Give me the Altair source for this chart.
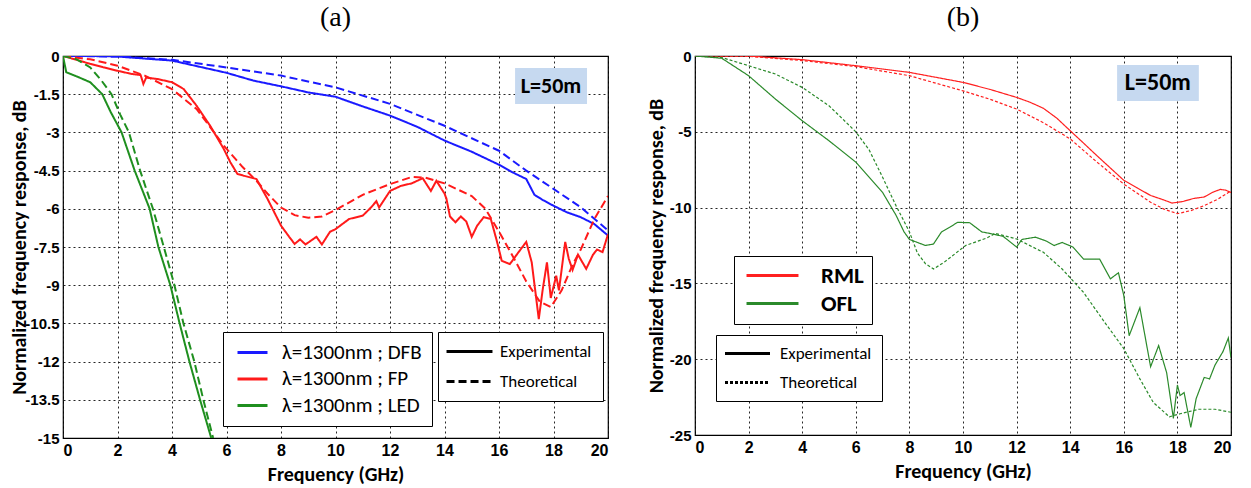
import altair as alt
import pandas as pd

# ---------------- Panel (a) data ----------------
dfb_exp_f = [0, 1, 2, 3, 4, 5, 6, 7, 8, 9, 10, 11, 12, 13, 14, 15, 16, 16.5, 17, 17.3, 17.6, 18, 18.5, 19, 19.5, 20]
dfb_exp_db = [0, 0, -0.02, -0.1, -0.18, -0.42, -0.66, -0.97, -1.19, -1.43, -1.6, -1.98, -2.34, -2.78, -3.32, -3.76,
              -4.27, -4.57, -4.83, -5.45, -5.65, -5.88, -6.14, -6.33, -6.6, -7.05]
dfb_th_f = [0, 2, 4, 6, 8, 10, 12, 14, 16, 17, 18, 19, 20]
dfb_th_db = [0, -0.02, -0.15, -0.45, -0.77, -1.23, -1.88, -2.74, -3.72, -4.5, -5.22, -5.94, -6.85]

fp_exp_f = [0, 0.5, 1.0, 1.5, 2.0, 2.5, 2.85, 2.95, 3.05, 3.45, 4.0, 4.43, 4.9, 5.4, 5.9, 6.14, 6.4, 6.63, 7.1, 7.5,
            8.0, 8.3, 8.5, 8.7, 8.9, 9.1, 9.3, 9.5, 9.8, 10.0, 10.5, 11.0, 11.3, 11.5, 11.6, 12.0, 12.4, 12.8, 13.2,
            13.5, 13.7, 14.0, 14.07, 14.2, 14.4, 14.6, 14.8, 15.0, 15.2, 15.44, 15.7, 15.93, 16.1, 16.4, 16.72, 17.0,
            17.2, 17.46, 17.6, 17.76, 17.9, 18.1, 18.2, 18.43, 18.56, 18.7, 18.9, 19.2, 19.45, 19.6, 19.8, 20.0]
fp_exp_db = [0, -0.15, -0.31, -0.45, -0.58, -0.7, -0.75, -1.1, -0.85, -0.9, -1.03, -1.3, -1.95, -2.74, -3.65, -4.17,
             -4.63, -4.7, -4.83, -5.6, -6.66, -7.1, -7.38, -7.2, -7.4, -7.25, -7.1, -7.4, -6.9, -6.8, -6.4, -6.27,
             -5.95, -5.7, -5.95, -5.3, -5.1, -5.0, -4.8, -5.3, -4.9, -5.4, -5.6, -6.3, -6.53, -6.3, -6.5, -7.1, -6.66,
             -6.33, -6.4, -7.3, -8.04, -8.17, -7.7, -7.3, -8.1, -10.33, -9.2, -8.1, -9.5, -8.63, -9.2, -7.3, -7.96,
             -8.4, -7.8, -8.36, -7.8, -7.6, -7.7, -7.0]
fp_th_f = [0, 1, 2, 3, 4, 4.9, 5.4, 5.9, 6.6, 7.1, 7.5, 8.0, 8.5, 9.0, 9.5, 10.0, 11.0, 12.0, 12.8, 13.3, 14.0, 15.0,
           15.5, 16.0, 16.5, 17.0, 17.5, 17.9, 18.3, 18.7, 19.0, 19.5, 20.0]
fp_th_db = [0, -0.13, -0.38, -0.77, -1.3, -2.08, -2.79, -3.52, -4.37, -4.9, -5.4, -5.95, -6.25, -6.35, -6.3, -6.05,
            -5.45, -5.03, -4.75, -4.78, -5.0, -5.5, -6.0, -6.9, -7.85, -8.85, -9.65, -9.86, -9.2, -8.2, -7.6, -6.4, -5.5]

led_exp_f = [0, 0.12, 0.5, 1.0, 1.44, 1.75, 2.15, 2.63, 3.18, 3.5, 3.94, 4.28, 4.64, 5.03, 5.44]
led_exp_db = [0, -0.64, -0.8, -1.03, -1.5, -2.2, -3.0, -4.5, -6.0, -7.5, -9.0, -10.5, -12.0, -13.5, -15.0]
led_th_f = [0, 0.5, 1.0, 1.4, 1.78, 2.1, 2.42, 2.83, 3.3, 3.7, 4.09, 4.42, 4.82, 5.15, 5.51]
led_th_db = [0, -0.13, -0.45, -0.95, -1.5, -2.3, -3.0, -4.5, -6.0, -7.5, -9.0, -10.5, -12.0, -13.5, -15.0]

# ---------------- Panel (b) data ----------------
rml_exp_f = [0, 2, 4, 6, 8, 10, 11, 12, 12.5, 13, 13.5, 14, 14.5, 15, 16, 16.5, 17, 17.5, 17.8, 18.2, 18.6, 19,
             19.3, 19.6, 19.8, 20]
rml_exp_db = [0, 0, -0.24, -0.64, -1.08, -1.74, -2.2, -2.73, -3.05, -3.45, -4.1, -4.93, -5.75, -6.58, -8.2, -8.7,
              -9.2, -9.5, -9.7, -9.6, -9.4, -9.3, -9.0, -8.8, -8.85, -9.0]
rml_th_f = [0, 2, 4, 6, 8, 10, 11, 12, 13, 14, 15, 16, 17, 17.5, 18, 18.5, 19, 19.5, 20]
rml_th_db = [0, -0.02, -0.3, -0.7, -1.3, -2.3, -2.85, -3.5, -4.4, -5.47, -7.0, -8.45, -9.65, -10.1, -10.4, -10.2,
             -9.87, -9.45, -8.9]

ofl_exp_f = [0, 1, 2, 3, 4, 5, 6, 7, 7.5, 7.8, 8.0, 8.3, 8.6, 8.9, 9.2, 9.5, 9.8, 10.25, 10.7, 11.1, 11.5, 12.0,
             12.2, 12.7, 13.1, 13.4, 13.7, 14.1, 14.5, 15.1, 15.5, 15.8, 16.0, 16.2, 16.6, 17.0, 17.3, 17.6, 17.85,
             18.0, 18.1, 18.25, 18.5, 18.7, 19.0, 19.2, 19.4, 19.7, 19.9, 20.0]
ofl_exp_db = [0, -0.15, -1.3, -2.84, -4.27, -5.59, -7.0, -9.0, -10.5, -11.6, -12.1, -12.3, -12.5, -12.4, -11.6,
              -11.3, -10.97, -11.0, -11.6, -11.74, -11.9, -12.6, -12.1, -11.95, -12.2, -12.5, -12.3, -12.6, -13.4,
              -13.4, -14.7, -14.3, -15.8, -18.45, -16.6, -20.5, -19.1, -20.9, -23.9, -21.7, -22.4, -22.2, -24.5,
              -22.6, -21.2, -21.3, -20.4, -19.5, -18.6, -19.9]
ofl_th_f = [0, 1, 2, 3, 4, 5, 6, 6.5, 7, 7.5, 8.0, 8.3, 8.6, 8.9, 9.3, 10.1, 10.9, 11.2, 12.0, 13.0, 13.7, 14.5,
            15.3, 16.0, 16.6, 17.1, 17.7, 18.1, 18.8, 19.4, 20.0]
ofl_th_db = [0, -0.1, -0.64, -1.19, -2.07, -3.28, -5.0, -6.2, -8.0, -9.87, -11.6, -13.0, -13.7, -14.05, -13.6,
             -12.5, -12.0, -11.7, -12.07, -12.95, -14.05, -15.6, -17.6, -19.3, -21.3, -22.85, -23.8, -23.6, -23.3,
             -23.3, -23.5]

# categories / labels
sources_a = ["λ=1300nm ; DFB", "λ=1300nm ; FP", "λ=1300nm ; LED"]
colors_a = ["#1a1aff", "#ff1a1a", "#1f8f1f"]
sources_b = ["RML", "OFL"]
colors_b = ["#ff2020", "#2b8a2b"]
types = ["Experimental", "Theoretical"]
x_ticks = [0, 2, 4, 6, 8, 10, 12, 14, 16, 18, 20]
y_ticks_a = [0, -1.5, -3, -4.5, -6, -7.5, -9, -10.5, -12, -13.5, -15]
y_ticks_b = [0, -5, -10, -15, -20, -25]

# annotation boxes ("L=50m"), in data units
note_text = ["L=50m"]
box_a = {"f1": [16.59], "f2": [19.23], "d1": [-0.47], "d2": [-1.88], "fc": [17.91], "dc": [-1.18]}
box_b = {"f1": [15.75], "f2": [18.8], "d1": [-0.59], "d2": [-2.97], "fc": [17.27], "dc": [-1.78]}


def frame(src, typ, f, db):
    return pd.DataFrame({"source": src, "type": typ, "f": f, "dB": db})


df_a = pd.concat([
    frame(sources_a[0], types[0], dfb_exp_f, dfb_exp_db),
    frame(sources_a[0], types[1], dfb_th_f, dfb_th_db),
    frame(sources_a[1], types[0], fp_exp_f, fp_exp_db),
    frame(sources_a[1], types[1], fp_th_f, fp_th_db),
    frame(sources_a[2], types[0], led_exp_f, led_exp_db),
    frame(sources_a[2], types[1], led_th_f, led_th_db),
], ignore_index=True)

df_b = pd.concat([
    frame(sources_b[0], types[0], rml_exp_f, rml_exp_db),
    frame(sources_b[0], types[1], rml_th_f, rml_th_db),
    frame(sources_b[1], types[0], ofl_exp_f, ofl_exp_db),
    frame(sources_b[1], types[1], ofl_th_f, ofl_th_db),
], ignore_index=True)

TICK_FONT = "Liberation Sans Narrow, Arial Narrow, Liberation Sans"
TEXT_FONT = "Carlito, Lato, Open Sans"
Y_TITLE = "Normalized frequency response, dB"


def make_panel(df, domain_src, range_src, yticks, ymin, width, height, title, sw, dash,
               leg1, leg2, box, y_extent, y_tpad, note_size):
    xs = alt.X("f:Q", scale=alt.Scale(domain=[0, 20], nice=False),
               axis=alt.Axis(values=x_ticks, tickCount=30, title="Frequency (GHz)", minExtent=22,
                             maxExtent=22, titlePadding=4, labelFontSize=16, labelExpr="'' + datum.value"))
    ys = alt.Y("dB:Q", scale=alt.Scale(domain=[ymin, 0], nice=False),
               axis=alt.Axis(values=yticks, tickCount=30, title=Y_TITLE, labelExpr="'' + datum.value",
                             minExtent=y_extent, maxExtent=y_extent, titlePadding=y_tpad))
    lines = alt.Chart(df).mark_line(strokeWidth=sw, clip=True).encode(
        x=xs, y=ys,
        color=alt.Color("source:N", scale=alt.Scale(domain=domain_src, range=range_src),
                        legend=alt.Legend(**leg1)),
        strokeDash=alt.StrokeDash("type:N", scale=alt.Scale(domain=types, range=[[1, 0], dash]),
                                  legend=alt.Legend(**leg2)),
    )
    bdf = pd.DataFrame({**box, "label": note_text})
    rect = alt.Chart(bdf).mark_rect(color="#c6d9f0").encode(
        x="f1:Q", x2="f2", y="d1:Q", y2="d2")
    txt = alt.Chart(bdf).mark_text(font=TEXT_FONT, fontSize=note_size, fontWeight="bold", color="black",
                                   baseline="middle", align="center").encode(
        x="fc:Q", y="dc:Q", text="label:N")
    return alt.layer(rect, lines, txt).properties(width=width, height=height, title=title)


def hline(k):
    # horizontal stroke symbol, k times the half-size long on each side
    return f"M-{k},0H{k}"


common_leg = dict(title=None, orient="none", strokeColor="black", fillColor="white",
                  labelFont=TEXT_FONT, labelColor="black", cornerRadius=0, symbolSize=144,
                  labelLimit=400)

# symbol size 144 -> half-size 6 px; line length = 2*k*6
leg1_a = dict(common_leg, legendX=160, legendY=276, symbolType=hline(2.5), symbolStrokeWidth=3,
              labelFontSize=21, padding=10, symbolOffset=9, rowPadding=4.5, labelOffset=19)
leg2_a = dict(common_leg, legendX=375, legendY=276, symbolType=hline(3.83), symbolStrokeWidth=3,
              labelFontSize=17, padding=11, symbolOffset=12, rowPadding=12, labelOffset=22,
              symbolStrokeColor="black")
leg1_b = dict(common_leg, legendX=39, legendY=200, symbolType=hline(4.33), symbolStrokeWidth=3,
              labelFontSize=23, labelFontWeight="bold", padding=8, symbolOffset=19, rowPadding=4,
              labelOffset=37)
leg2_b = dict(common_leg, legendX=21, legendY=279, symbolType=hline(3.75), symbolStrokeWidth=3,
              labelFontSize=17, padding=10, symbolOffset=13, rowPadding=11, labelOffset=24,
              symbolStrokeColor="black")

panel_a = make_panel(df_a, sources_a, colors_a, y_ticks_a, -15, 545, 382, "(a)", 2, [8, 4],
                     leg1_a, leg2_a, box_a, 30, 4, 22)
panel_b = make_panel(df_b, sources_b, colors_b, y_ticks_b, -25, 536, 379, "(b)", 1.2, [3, 2],
                     leg1_b, leg2_b, box_b, 18, 11, 24)

chart = alt.hconcat(panel_a, panel_b, spacing=36).resolve_scale(
    color="independent", strokeDash="independent", x="independent", y="independent"
).properties(
    padding={"left": 8, "top": 3, "right": 0, "bottom": 0}
).configure_view(
    stroke="black", strokeWidth=1.2
).configure_axis(
    grid=True, gridColor="black", gridDash=[2, 3], gridWidth=1, gridOpacity=0.85,
    domain=False, ticks=False, labelPadding=4, labelOverlap=False,
    labelFont=TICK_FONT, labelFontSize=15, labelFontWeight="bold", labelColor="black",
    titleFont=TEXT_FONT, titleFontSize=20, titleFontWeight="bold", titleColor="black",
).configure_title(
    font="Liberation Serif", fontSize=28, fontWeight="normal", anchor="middle", color="black", offset=17
)

chart.save("out.html", embed_options={"renderer": "svg", "actions": False})
